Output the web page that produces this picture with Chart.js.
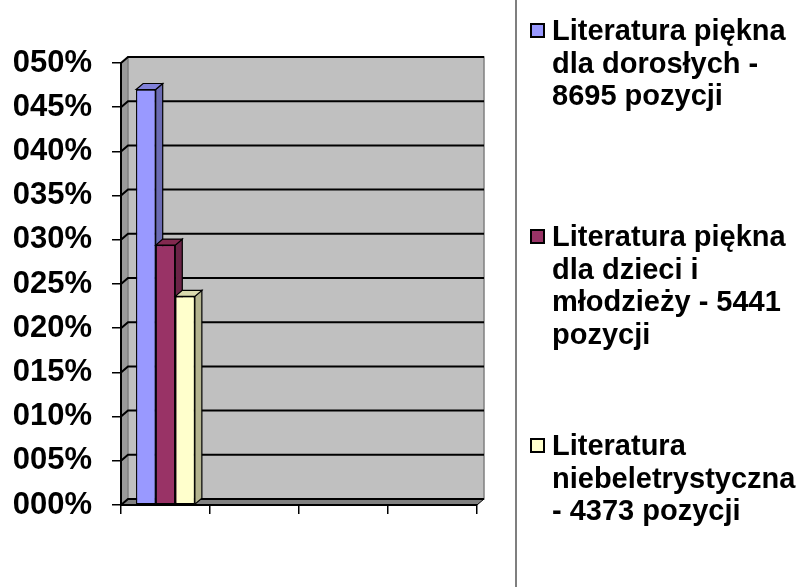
<!DOCTYPE html>
<html>
<head>
<meta charset="utf-8">
<script src="https://cdn.jsdelivr.net/npm/chart.js@4/dist/chart.umd.min.js"></script>
<style>
  body { margin: 0; background: #fff; }
  #wrap { position: relative; width: 801px; height: 587px; overflow: hidden; }
  #chart { position: absolute; left: 0; top: 0; }
  #divider { position: absolute; left: 515px; top: 0; width: 2px; height: 587px; background: #7f7f7f; }
  .item { position: absolute; left: 530px; font: bold 29px "Liberation Sans", Arial, sans-serif; line-height: 32.5px; color: #000; }
  .box { position: absolute; left: 0; top: 9px; width: 15px; height: 15px; border: 2px solid #000; box-sizing: border-box; }
  .txt { margin-left: 22px; white-space: nowrap; }
</style>
</head>
<body>
<div id="wrap">
  <canvas id="chart" width="801" height="587"></canvas>
  <div id="divider"></div>
</div>
<script>
// data
const categories = ["", "", "", ""];
const seriesNames = [
  ["Literatura piękna", "dla dorosłych -", "8695 pozycji"],
  ["Literatura piękna", "dla dzieci i", "młodzieży - 5441", "pozycji"],
  ["Literatura", "niebeletrystyczna", "- 4373 pozycji"]
];
const doroslych = [0.47, null, null, null];
const dzieci = [0.294, null, null, null];
const niebeletrystyczna = [0.236, null, null, null];

const frontColors = ["#9999FF", "#993366", "#FFFFCC"];
const sideColors = ["#6B6BB3", "#6B2447", "#B3B38F"];
const topColors = ["#8080D9", "#82294F", "#DADAAE"];

const DX = 7, DY = -6;

function poly(ctx, pts) {
  ctx.beginPath();
  ctx.moveTo(pts[0][0], pts[0][1]);
  for (let i = 1; i < pts.length; i++) ctx.lineTo(pts[i][0], pts[i][1]);
  ctx.closePath();
}

const wall3d = {
  id: "wall3d",
  beforeDraw(chart) {
    const ctx = chart.ctx;
    const a = chart.chartArea;
    const y = chart.scales.y;
    ctx.save();
    // side wall
    ctx.fillStyle = "#9a9a9a";
    poly(ctx, [[a.left, a.top], [a.left + DX, a.top + DY], [a.left + DX, a.bottom + DY], [a.left, a.bottom]]);
    ctx.fill();
    // floor
    ctx.fillStyle = "#808080";
    poly(ctx, [[a.left, a.bottom], [a.left + DX, a.bottom + DY], [a.right + DX, a.bottom + DY], [a.right, a.bottom]]);
    ctx.fill();
    ctx.strokeStyle = "#000";
    ctx.lineWidth = 1;
    ctx.stroke();
    // back wall
    ctx.fillStyle = "#c0c0c0";
    ctx.fillRect(a.left + DX, a.top + DY, a.right - a.left, a.bottom - a.top);
    ctx.strokeStyle = "#808080";
    ctx.lineWidth = 1.5;
    ctx.strokeRect(a.left + DX, a.top + DY, a.right - a.left, a.bottom - a.top);
    // gridlines on side + back wall
    ctx.strokeStyle = "#000";
    ctx.lineWidth = 2;
    y.ticks.forEach((t) => {
      const py = y.getPixelForValue(t.value);
      ctx.beginPath();
      ctx.moveTo(a.left, py);
      ctx.lineTo(a.left + DX, py + DY);
      ctx.lineTo(a.right + DX, py + DY);
      ctx.stroke();
    });
    ctx.restore();
  },
  // redraw the bars in series order so each one covers the side of the one before
  afterDatasetsDraw(chart) {
    const ctx = chart.ctx;
    ctx.save();
    chart.data.datasets.forEach((ds, i) => {
      const meta = chart.getDatasetMeta(i);
      meta.data.forEach((bar, j) => {
        if (ds.data[j] == null) return;
        bar.draw(ctx);
        const p = bar.getProps(["x", "y", "base", "width"], true);
        const l = p.x - p.width / 2, r = p.x + p.width / 2;
        ctx.strokeStyle = "#000";
        ctx.lineWidth = 1.2;
        ctx.fillStyle = sideColors[i];
        poly(ctx, [[r, p.y], [r + DX, p.y + DY], [r + DX, p.base + DY], [r, p.base]]);
        ctx.fill();
        ctx.stroke();
        ctx.fillStyle = topColors[i];
        poly(ctx, [[l, p.y], [l + DX, p.y + DY], [r + DX, p.y + DY], [r, p.y]]);
        ctx.fill();
        ctx.stroke();
      });
    });
    ctx.restore();
  }
};

const seriesData = [doroslych, dzieci, niebeletrystyczna];

new Chart(document.getElementById("chart"), {
  type: "bar",
  data: {
    labels: categories,
    datasets: seriesData.map((d, i) => ({
      label: seriesNames[i].join(" "),
      data: d,
      backgroundColor: frontColors[i],
      borderColor: "#000",
      borderWidth: 1.2,
      borderSkipped: false,
      categoryPercentage: 0.66,
      barPercentage: 1
    }))
  },
  options: {
    responsive: false,
    animation: false,
    layout: { padding: { left: 0, top: 63, right: 324, bottom: 73 } },
    plugins: { legend: { display: false }, tooltip: { enabled: false } },
    scales: {
      x: {
        grid: { display: true, drawOnChartArea: false, offset: true, tickLength: 9, color: "#000", lineWidth: 1.5 },
        border: { display: true, color: "#000", width: 2 },
        ticks: { display: false },
        afterFit: (s) => { s.height = 9; }
      },
      y: {
        min: 0,
        max: 0.5,
        grid: { drawOnChartArea: false, tickLength: 9, color: "#000", lineWidth: 1.5 },
        border: { display: true, color: "#000", width: 2 },
        ticks: {
          stepSize: 0.05,
          padding: 20,
          color: "#000",
          font: { family: "'Liberation Sans', Arial, sans-serif", size: 31, weight: "bold" },
          callback: (v) => String(Math.round(v * 100)).padStart(3, "0") + "%"
        },
        afterFit: (s) => { s.width = 121; }
      }
    }
  },
  plugins: [wall3d]
});

// legend on the right
const legendTops = [14, 220, 429];
const wrap = document.getElementById("wrap");
seriesNames.forEach((lines, i) => {
  const item = document.createElement("div");
  item.className = "item";
  item.style.top = legendTops[i] + "px";
  const box = document.createElement("div");
  box.className = "box";
  box.style.background = frontColors[i];
  item.appendChild(box);
  const txt = document.createElement("div");
  txt.className = "txt";
  lines.forEach((ln, k) => {
    if (k) txt.appendChild(document.createElement("br"));
    txt.appendChild(document.createTextNode(ln));
  });
  item.appendChild(txt);
  wrap.appendChild(item);
});
</script>
</body>
</html>
